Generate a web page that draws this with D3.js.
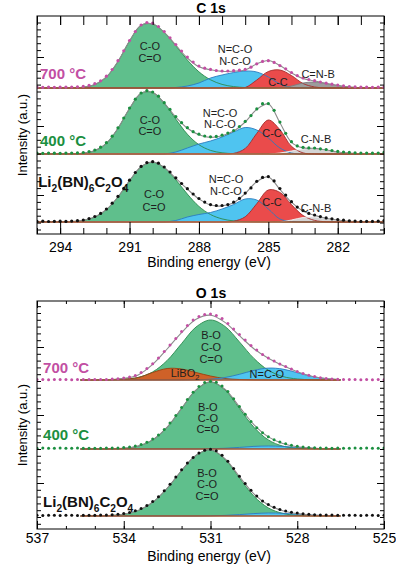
<!DOCTYPE html>
<html>
<head>
<meta charset="utf-8">
<script src="https://cdn.jsdelivr.net/npm/d3@7"></script>
<style>
  body { margin: 0; background: #fff; }
  svg { display: block; font-family: Arial, "Liberation Sans", sans-serif; }
</style>
</head>
<body>
<svg id="chart" width="396" height="575"></svg>
<script>
// ---- C 1s data (binding energy grids in eV, intensities in a.u.) ----
const c1sGrid = d3.range(295, 279.9, -0.5);      // fit components
const c1sDotGrid = d3.range(295, 279.9, -0.25);  // measured points

const c700Dots = [0.8,0.6,0.9,0.7,0.8,0.9,1.0,1.2,1.6,2.6,4.3,7.2,11.8,18.5,27.3,37.2,47.5,56.5,63,65.5,64.8,61.5,56.5,50.2,43.5,37,31,26,22,19.8,18.6,17.5,17,17,17.3,17.8,18.6,20.8,24.2,26.6,27.3,25.6,22.4,19.2,15.5,12.4,10,8.5,7.3,6,4.8,3.8,2.9,2.1,1.5,1.1,0.9,0.8,0.7,0.9,0.8];
const c700CO  = [0,0,0,0.1,0.8,3.5,11,26.5,47,62.7,64,55.7,42.3,28,16.2,8.2,3.6,1.4,0.45,0.1,0,0,0,0,0,0,0,0,0,0,0];
const c700NCO = [0,0,0,0,0,0,0,0,0,0,0,0,0.5,2,5,10,13,15.5,17,16,11,4,0.5,0,0,0,0,0,0,0,0];
const c700CC  = [0,0,0,0,0,0,0,0,0,0,0,0,0,0,0,0,0,0,0.5,8,16.5,18,12.5,4.5,1,0,0,0,0,0,0];
const c700CNB = [0,0,0,0,0,0,0,0,0,0,0,0,0,0,0,0,0,0,0,0,0,0.5,2,5,6,4.5,2.5,1,0.3,0,0];

const c400Dots = [0.8,0.7,0.9,0.8,0.7,0.9,1,1.1,1.5,2.4,4,6.8,11.3,17.8,26.2,36,46,54.8,61,63.4,62,57.8,51.3,44.6,37.4,31.3,26.3,22.3,19.8,18,17.2,17.6,18.8,20.9,23.5,27.4,32.6,38.4,45.1,50.3,50.4,43.7,31.9,20.7,12.3,8.1,6.7,6.1,6,5.2,4.5,3.5,2.6,2,1.6,1.2,1,0.9,0.8,0.9,1.6];
const c400CO  = [0,0,0,0.1,0.8,3.4,10.7,25.7,45.5,60.8,61.5,50.9,34.9,19.8,9.3,3.6,1.2,0.3,0,0,0,0,0,0,0,0,0,0,0,0,0];
const c400NCO = [0,0,0,0,0,0,0,0,0,0,0,0,2,6,10,13,17,22,26.5,24,16,6,1,0,0,0,0,0,0,0,0];
const c400CC  = [0,0,0,0,0,0,0,0,0,0,0,0,0,0,0,0,0,0.6,5.5,20.6,34,24.3,7.7,1.1,0.1,0,0,0,0,0,0];
const c400CNB = [0,0,0,0,0,0,0,0,0,0,0,0,0,0,0,0,0,0,0,0,0,1,3,5,5.5,4,2,1,0.3,0,0];

const cLiDots = [0.6,0.8,0.5,0.7,0.8,0.6,0.9,1.3,2,3.4,5.5,8.6,13,18.8,25.6,33.6,41.8,49.5,55.6,59.4,60.3,58.8,55,50,44.2,38.5,33.3,28,23.5,19.9,17.4,16.5,16.5,17.4,19.8,23.6,28.9,34.1,40.7,44.6,45.4,41.1,33.5,26.9,20.3,14.9,11.4,8.6,7,5.4,4.1,3.2,2.4,1.8,1.2,0.9,0.6,0.7,0.6,0.8,1.5];
const cLiCO  = [0,0,0,0.4,1.6,5,12.5,25,41.3,55.2,59.9,54.5,42.2,27.9,15.6,7.5,3.1,1.1,0.3,0,0,0,0,0,0,0,0,0,0,0,0];
const cLiNCO = [0,0,0,0,0,0,0,0,0,0,0,0,1.5,5,7.5,9.5,13,17.5,23,22,13,3,0.5,0,0,0,0,0,0,0,0];
const cLiCC  = [0,0,0,0,0,0,0,0,0,0,0,0,0,0,0,0,0,0.75,5.2,18.3,32,29.6,17.4,6.5,1.6,0.25,0,0,0,0,0];
const cLiCNB = [0,0,0,0,0,0,0,0,0,0,0,0,0,0,0,0,0,0,0,0,0,0,2,4.5,5,3.5,2,0.8,0.2,0,0];

// ---- O 1s data ----
const o1sGrid = d3.range(535.5, 526.4, -0.5);
const o1sDotGrid = d3.range(537, 524.9, -0.2);

const o700Dots = [0.4,0.5,0.3,0.5,0.4,0.5,0.3,0.5,0.4,0.5,0.4,0.5,0.6,0.9,1.2,1.9,3.0,4.6,7.5,11.5,16.2,22,28.5,35,41.5,48.5,54.5,60,63.5,65.5,66,64.5,61.5,56.5,51,45.5,40,34.5,30,25.5,22,19,16,13.5,11,8.5,6.5,4.8,3.4,2.3,1.5,1,0.7,0.5,0.4,0.4,0.3,0.4,0.3,0.4,0.3];
const o700BCO   = [0,0.02,0.13,0.67,2.6,8.1,19.5,36.4,53,60,53.6,38.1,21.6,9.8,3.5,1,0.23,0.04,0];
const o700LiBO2 = [0,0,0.3,1,2.5,7.5,11.5,11,7.5,4,1.5,0.5,0.1,0,0,0,0,0,0];
const o700NCO   = [0,0,0,0,0,0,0,0,0.2,0.8,2.5,5.7,9.6,11.9,10.9,7.3,3.6,1.3,0.3];

const o400Dots = [0.8,0.9,0.7,0.8,0.9,0.8,0.7,0.9,0.8,0.8,0.8,0.8,0.9,0.9,1.1,1.5,2.1,3.1,4.5,6.8,9.9,14,19.4,26,33.4,41.4,49.5,56.8,62.6,66.4,67.8,66.7,63,57.5,50.3,42.4,34.8,27.5,21.3,16.2,12.3,9.2,6.9,5.2,3.8,2.7,2,1.5,1.2,1,0.9,0.8,0.9,0.8,0.7,0.9,0.8,0.9,0.8,0.8,0.9];
const o400BCO = [0,0,0.2,0.7,2.9,9.1,21.8,40.6,59.1,67,59.1,40.6,21.8,9.1,2.9,0.7,0.2,0,0];
const o400NCO = [0,0,0,0,0,0,0,0,0,0.25,0.75,1.6,2.6,3,2.6,1.6,0.75,0.25,0.06];

const oLiDots = [0.7,0.6,0.8,0.7,0.6,0.7,0.8,0.6,0.7,0.7,0.8,0.9,1.0,1.3,1.8,2.5,3.6,5.2,7.4,10.5,14.4,19.3,25.2,31.8,38.9,46.2,52.9,58.6,63,65.8,66.8,65.2,60.8,54.8,47.4,39.8,32.4,25.7,19.9,15.1,11.5,8.7,6.6,5,3.8,2.9,2.2,1.7,1.3,1.1,1,0.9,0.8,0.7,0.8,0.7,0.6,0.8,0.7,0.6,0.7];
const oLiBCO = [0,0.1,0.5,1.8,5.5,13.7,27.7,45.5,60.7,66,56.8,38,19.8,8.1,2.6,0.6,0.1,0,0];
const oLiNCO = [0,0,0,0,0,0,0,0,0,0.2,0.6,1.4,2.4,3,2.7,1.8,0.9,0.32,0.1];

// stacking offsets of the three spectra (a.u.)
const cOffsets = { t700: 107, t400: 41, li: -27 };
const oOffsets = { t700: 103, t400: 34, li: -33 };

// ---- colours ----
const pink = "#c24fa3", green = "#1b8f40", black = "#111";
const fillCO = "#5fbf8c", lineCO = "#2b8a4e";
const fillN = "#4fc4f0", lineN = "#2a7cc0";
const fillCC = "#ea4b4b", lineCC = "#a52a2a";
const fillLiBO = "#cf6128", lineLiBO = "#9a4010";
const baseColor = "#a0522d", envColor = "#8c8c8c";

const svg = d3.select("#chart");
const LEFT = 37, RIGHT = 384;

function subText(g, x, y, parts, opts) {
  const t = g.append("text").attr("x", x).attr("y", y)
    .attr("font-size", opts.size).attr("font-weight", opts.weight || "normal")
    .attr("fill", opts.color).attr("text-anchor", opts.anchor || "start");
  let shifted = false;
  parts.forEach(([s, sub]) => {
    const ts = t.append("tspan").text(s);
    if (sub && !shifted) { ts.attr("dy", opts.size * 0.3).attr("font-size", opts.size * 0.68); shifted = true; }
    else if (sub) { ts.attr("font-size", opts.size * 0.68); }
    else if (!sub && shifted) { ts.attr("dy", -opts.size * 0.3); shifted = false; }
  });
  return t;
}

function drawPanel(cfg) {
  const x = d3.scaleLinear().domain(cfg.xDomain).range([LEFT, RIGHT]);
  const y = d3.scaleLinear().domain(cfg.yDomain).range([cfg.yBottom, cfg.yTop]);
  const g = svg.append("g");

  g.append("clipPath").attr("id", "clip-" + cfg.id)
    .append("rect").attr("x", LEFT).attr("y", cfg.yTop)
    .attr("width", RIGHT - LEFT).attr("height", cfg.yBottom - cfg.yTop);
  const plot = g.append("g").attr("clip-path", `url(#clip-${cfg.id})`);

  cfg.spectra.forEach(s => {
    const curve = d3.curveCatmullRom.alpha(0.5);
    const area = d3.area()
      .x((d, i) => x(cfg.grid[i]))
      .y0(y(s.offset))
      .y1(d => y(s.offset + d))
      .curve(curve);
    const line = d3.line()
      .x((d, i) => x(cfg.grid[i]))
      .y(d => y(s.offset + d))
      .curve(curve);

    s.comps.forEach(c => plot.append("path").attr("d", area(c.values)).attr("fill", c.fill));
    s.comps.forEach(c => plot.append("path").attr("d", line(c.values))
      .attr("fill", "none").attr("stroke", c.stroke).attr("stroke-width", 0.9));

    // fit envelope = sum of components
    const env = cfg.grid.map((_, i) => d3.sum(s.comps, c => c.values[i]));
    plot.append("path").attr("d", line(env))
      .attr("fill", "none").attr("stroke", envColor).attr("stroke-width", 1.1);

    plot.append("line")
      .attr("x1", x(cfg.baseExtent[0])).attr("x2", x(cfg.baseExtent[1]))
      .attr("y1", y(s.offset)).attr("y2", y(s.offset))
      .attr("stroke", baseColor).attr("stroke-width", 1.4);

    plot.append("g").selectAll("circle")
      .data(s.dots)
      .join("circle")
      .attr("cx", (d, i) => x(cfg.dotGrid[i]))
      .attr("cy", d => y(s.offset + d))
      .attr("r", cfg.dotR)
      .attr("fill", s.color);

    // component labels
    s.labels.forEach(l => {
      subText(g, x(l.e), y(s.offset + l.v), l.parts, { size: 11, color: "#1e1e1e", anchor: "middle" });
    });
    subText(g, x(s.name.e), y(s.offset + s.name.v), s.name.parts,
      { size: 15, weight: "bold", color: s.color, anchor: "start" });
  });

  // frame
  g.append("rect").attr("x", LEFT).attr("y", cfg.yTop)
    .attr("width", RIGHT - LEFT).attr("height", cfg.yBottom - cfg.yTop)
    .attr("fill", "none").attr("stroke", "#000").attr("stroke-width", 1);

  const noDomain = a => a.select(".domain").remove();
  const minorX = d3.range(cfg.xDomain[0], cfg.xDomain[1] - 0.5, -1);

  // bottom axis
  g.append("g").attr("transform", `translate(0,${cfg.yBottom})`)
    .call(d3.axisBottom(x).tickValues(minorX).tickSize(-cfg.tick.bMinor).tickFormat(""))
    .call(noDomain);
  g.append("g").attr("transform", `translate(0,${cfg.yBottom})`)
    .call(d3.axisBottom(x).tickValues(cfg.xMajor).tickSize(-cfg.tick.bMajor)
      .tickPadding(cfg.labelPad).tickFormat(d3.format("d")))
    .call(noDomain)
    .attr("font-family", null).attr("font-size", 14)
    .call(a => a.selectAll("text").attr("fill", "#000"));

  // top axis
  g.append("g").attr("transform", `translate(0,${cfg.yTop})`)
    .call(d3.axisTop(x).tickValues(minorX).tickSize(-cfg.tick.tMinor).tickFormat(""))
    .call(noDomain);
  g.append("g").attr("transform", `translate(0,${cfg.yTop})`)
    .call(d3.axisTop(x).tickValues(cfg.xMajor).tickSize(-cfg.tick.tMajor).tickFormat(""))
    .call(noDomain);

  // y axes (no labels)
  [[d3.axisLeft, LEFT], [d3.axisRight, RIGHT]].forEach(([ax, pos]) => {
    g.append("g").attr("transform", `translate(${pos},0)`)
      .call(ax(y).tickValues(cfg.yMinor).tickSize(-4).tickFormat(""))
      .call(noDomain);
    g.append("g").attr("transform", `translate(${pos},0)`)
      .call(ax(y).tickValues(cfg.yMajor).tickSize(-7).tickFormat(""))
      .call(noDomain);
  });

  g.selectAll(".tick line").attr("stroke", "#000");

  // titles
  g.append("text").attr("x", 211).attr("y", cfg.yTop - 3)
    .attr("text-anchor", "middle").attr("font-size", 14).attr("font-weight", "bold")
    .text(cfg.title);
  g.append("text").attr("x", 209).attr("y", cfg.xTitleY)
    .attr("text-anchor", "middle").attr("font-size", 14)
    .text("Binding energy (eV)");
  g.append("text")
    .attr("transform", `translate(27,${(cfg.yTop + cfg.yBottom) / 2 + 10}) rotate(-90)`)
    .attr("text-anchor", "middle").attr("font-size", 13)
    .text("Intensity (a.u.)");
}

const liName = [["Li"], ["2", true], ["(BN)"], ["6", true], ["C"], ["2", true], ["O"], ["4", true]];

drawPanel({
  id: "c1s", title: "C 1s",
  xDomain: [295, 280], yDomain: [-39, 179], yTop: 16, yBottom: 234,
  xMajor: [294, 291, 288, 285, 282],
  yMajor: [0, 69, 138], yMinor: d3.range(-34.5, 179, 6.9),
  tick: { bMajor: 12, bMinor: 6, tMajor: 9, tMinor: 9 },
  labelPad: 8, xTitleY: 267,
  grid: c1sGrid, dotGrid: c1sDotGrid, dotR: 1.6, baseExtent: [295, 280],
  spectra: [
    { offset: cOffsets.t700, color: pink, dots: c700Dots,
      comps: [
        { values: c700CO, fill: fillCO, stroke: lineCO },
        { values: c700NCO, fill: fillN, stroke: lineN },
        { values: c700CC, fill: fillCC, stroke: lineCC },
        { values: c700CNB, fill: "#9c9c9c", stroke: "#7a7a7a" }
      ],
      name: { e: 294.87, v: 9, parts: [["700 °C"]] },
      labels: [
        { e: 290.12, v: 38, parts: [["C-O"]] }, { e: 290.12, v: 26, parts: [["C=O"]] },
        { e: 286.44, v: 35, parts: [["N=C-O"]] }, { e: 286.44, v: 23, parts: [["N-C-O"]] },
        { e: 284.58, v: 2, parts: [["C-C"]] }, { e: 282.85, v: 10, parts: [["C=N-B"]] }
      ] },
    { offset: cOffsets.t400, color: green, dots: c400Dots,
      comps: [
        { values: c400CO, fill: fillCO, stroke: lineCO },
        { values: c400NCO, fill: fillN, stroke: lineN },
        { values: c400CC, fill: fillCC, stroke: lineCC },
        { values: c400CNB, fill: "#d4d4d4", stroke: "#f2f2f2" }
      ],
      name: { e: 294.87, v: 8, parts: [["400 °C"]] },
      labels: [
        { e: 290.12, v: 30, parts: [["C-O"]] }, { e: 290.12, v: 19, parts: [["C=O"]] },
        { e: 287.09, v: 37, parts: [["N=C-O"]] }, { e: 287.09, v: 26, parts: [["N-C-O"]] },
        { e: 284.84, v: 17, parts: [["C-C"]] }, { e: 282.94, v: 11, parts: [["C-N-B"]] }
      ] },
    { offset: cOffsets.li, color: black, dots: cLiDots,
      comps: [
        { values: cLiCO, fill: fillCO, stroke: lineCO },
        { values: cLiNCO, fill: fillN, stroke: lineN },
        { values: cLiCC, fill: fillCC, stroke: lineCC },
        { values: cLiCNB, fill: "#d4d4d4", stroke: "#f2f2f2" }
      ],
      name: { e: 294.95, v: 35, parts: liName },
      labels: [
        { e: 289.94, v: 24, parts: [["C-O"]] }, { e: 289.94, v: 11, parts: [["C=O"]] },
        { e: 286.83, v: 39, parts: [["N=C-O"]] }, { e: 286.83, v: 27, parts: [["N-C-O"]] },
        { e: 284.84, v: 16, parts: [["C-C"]] }, { e: 282.94, v: 10, parts: [["C-N-B"]] }
      ] }
  ]
});

drawPanel({
  id: "o1s", title: "O 1s",
  xDomain: [537, 525], yDomain: [-46, 182], yTop: 301, yBottom: 529,
  xMajor: [537, 534, 531, 528, 525],
  yMajor: [0, 68, 136], yMinor: d3.range(-40.8, 182, 6.8),
  tick: { bMajor: 8, bMinor: 3, tMajor: 7, tMinor: 3 },
  labelPad: 4, xTitleY: 561,
  grid: o1sGrid, dotGrid: o1sDotGrid, dotR: 1.5, baseExtent: [535.5, 526.5],
  spectra: [
    { offset: oOffsets.t700, color: pink, dots: o700Dots,
      comps: [
        { values: o700BCO, fill: fillCO, stroke: lineCO },
        { values: o700LiBO2, fill: fillLiBO, stroke: lineLiBO },
        { values: o700NCO, fill: fillN, stroke: lineN }
      ],
      name: { e: 536.79, v: 7, parts: [["700 °C"]] },
      labels: [
        { e: 530.98, v: 41, parts: [["B-O"]] }, { e: 530.98, v: 29, parts: [["C-O"]] },
        { e: 530.98, v: 17, parts: [["C=O"]] },
        { e: 531.88, v: 3, parts: [["LiBO"], ["2", true]] },
        { e: 529.05, v: 2, parts: [["N=C-O"]] }
      ] },
    { offset: oOffsets.t400, color: green, dots: o400Dots,
      comps: [
        { values: o400BCO, fill: fillCO, stroke: lineCO },
        { values: o400NCO, fill: fillN, stroke: lineN }
      ],
      name: { e: 536.79, v: 9, parts: [["400 °C"]] },
      labels: [
        { e: 531.09, v: 38, parts: [["B-O"]] }, { e: 531.09, v: 27, parts: [["C-O"]] },
        { e: 531.09, v: 16, parts: [["C=O"]] }
      ] },
    { offset: oOffsets.li, color: black, dots: oLiDots,
      comps: [
        { values: oLiBCO, fill: fillCO, stroke: lineCO },
        { values: oLiNCO, fill: fillN, stroke: lineN }
      ],
      name: { e: 536.79, v: 9, parts: liName },
      labels: [
        { e: 531.12, v: 39, parts: [["B-O"]] }, { e: 531.12, v: 28, parts: [["C-O"]] },
        { e: 531.12, v: 16, parts: [["C=O"]] }
      ] }
  ]
});
</script>
</body>
</html>
